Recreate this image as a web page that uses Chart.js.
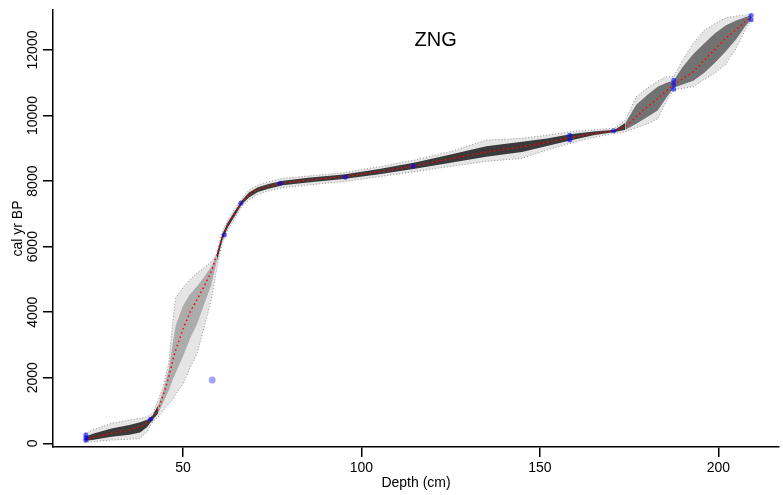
<!DOCTYPE html>
<html>
<head>
<meta charset="utf-8">
<script src="https://cdn.jsdelivr.net/npm/chart.js@4"></script>
<style>
  body { margin: 0; background: #fff; }
  #wrap { width: 783px; height: 495px; position: relative; }
</style>
</head>
<body>
<div id="wrap"><canvas id="c"></canvas></div>
<script>
// depths (cm) used for the age model band
const bandDepth = [22.5, 25, 30, 35, 38, 40, 41.5, 43, 44.5, 46, 47.2, 48, 50, 52, 54, 56, 58, 59.5, 61, 62.5, 64.5, 66.5, 68.5, 71, 74, 78, 85, 95, 105, 115, 125, 135, 145, 152, 158.5, 165, 171, 174, 177, 180, 183, 185.5, 187.5, 190, 193, 196, 199, 202, 205, 207.5, 209.2];
// mean age (red dotted)
const meanAge = [100, 183, 305, 406, 506, 620, 780, 1000, 1480, 2000, 2542, 2850, 3480, 4000, 4400, 4800, 5250, 5750, 6270, 6650, 7000, 7350, 7576, 7740, 7840, 7942, 8033, 8130, 8290, 8470, 8680, 8890, 9049, 9180, 9330, 9450, 9530, 9660, 9970, 10260, 10520, 10760, 10940, 11120, 11338, 11680, 12010, 12350, 12620, 12860, 13000];
// outer (95%) range
const outerMin = [40, 50, 100, 122, 152, 355, 650, 800, 1000, 1200, 1350, 1500, 1800, 2300, 2750, 3559, 4400, 5350, 6100, 6500, 6850, 7230, 7420, 7600, 7700, 7800, 7880, 7982, 8135, 8287, 8450, 8600, 8695, 8950, 9153, 9330, 9456, 9507, 9630, 9740, 9900, 10450, 10780, 10830, 10880, 11100, 11287, 11560, 12050, 12600, 12900];
const outerMax = [300, 420, 610, 711, 762, 812, 900, 1300, 1750, 2450, 3762, 4450, 4750, 5000, 5200, 5360, 5540, 5800, 6450, 6800, 7150, 7460, 7730, 7880, 7980, 8085, 8155, 8256, 8440, 8644, 8900, 9250, 9306, 9400, 9507, 9560, 9620, 9864, 10575, 10830, 11050, 11185, 11185, 11700, 12204, 12600, 12800, 12980, 13040, 13068, 13100];
// darker inner range
const innerMin = [70, 110, 200, 260, 330, 500, 720, 900, 1250, 1600, 1950, 2150, 2650, 3200, 3650, 4250, 4850, 5550, 6180, 6570, 6930, 7290, 7500, 7670, 7770, 7870, 7960, 8060, 8210, 8380, 8560, 8740, 8890, 9070, 9240, 9400, 9500, 9570, 9750, 9950, 10150, 10550, 10850, 10950, 11060, 11300, 11600, 11950, 12330, 12720, 12940];
const innerMax = [200, 300, 450, 560, 640, 720, 850, 1150, 1620, 2250, 3100, 3600, 4200, 4550, 4800, 5080, 5400, 5780, 6370, 6730, 7080, 7410, 7650, 7810, 7910, 8010, 8100, 8200, 8370, 8570, 8810, 9060, 9200, 9300, 9430, 9510, 9570, 9780, 10330, 10620, 10880, 11000, 11070, 11480, 11880, 12200, 12500, 12750, 12900, 13000, 13060];

// dated levels (blue)
const dateDepth = [22.8, 22.8, 22.8, 41, 61.6, 66.2, 77.3, 95.5, 114.5, 158.4, 158.4, 170.7, 187.5, 187.5, 187.5, 209.2, 209.2];
const dateAge = [90, 170, 250, 730, 6355, 7322, 7933, 8115, 8460, 9250, 9400, 9537, 10800, 10950, 11080, 12920, 13050];
const outlierDepth = [58.2];
const outlierAge = [1931];

const xTicks = [50, 100, 150, 200];
const yTicks = [0, 2000, 4000, 6000, 8000, 10000, 12000];

const pts = (xs, ys) => xs.map((x, i) => ({ x: x, y: ys[i] }));

const font14 = { family: 'Arial, "Liberation Sans", sans-serif', size: 14 };

// rotated y tick labels + core name
const labelsPlugin = {
  id: 'labels',
  afterDraw(chart) {
    const ctx = chart.ctx;
    const y = chart.scales.y, x = chart.scales.x;
    ctx.save();
    ctx.fillStyle = '#000';
    ctx.font = '14px Arial, "Liberation Sans", sans-serif';
    ctx.textAlign = 'center';
    ctx.textBaseline = 'middle';
    yTicks.forEach(v => {
      ctx.save();
      ctx.translate(33, y.getPixelForValue(v));
      ctx.rotate(-Math.PI / 2);
      ctx.fillText(String(v), 0, 0);
      ctx.restore();
    });
    ctx.font = '20px Arial, "Liberation Sans", sans-serif';
    ctx.fillText('ZNG', x.getPixelForValue(120.8), y.getPixelForValue(12300));
    ctx.restore();
  }
};

// shade of the inner band by section
function innerShade(c) {
  const d0 = c.p0.parsed.x, d1 = c.p1.parsed.x;
  if (d0 >= 43 && d1 <= 59.5) return 'rgba(0,0,0,0.25)';
  if (d0 >= 174) return 'rgba(0,0,0,0.5)';
  return 'rgba(0,0,0,0.75)';
}

new Chart(document.getElementById('c'), {
  type: 'line',
  data: {
    datasets: [
      { data: pts(bandDepth, outerMax), borderColor: 'rgba(0,0,0,0.4)', borderWidth: 1, borderDash: [1, 2],
        pointRadius: 0, fill: false, order: 4 },
      { data: pts(bandDepth, outerMin), borderColor: 'rgba(0,0,0,0.4)', borderWidth: 1, borderDash: [1, 2],
        pointRadius: 0, fill: '-1', backgroundColor: 'rgba(0,0,0,0.1)', order: 4 },
      { data: pts(bandDepth, innerMax), borderWidth: 0, borderColor: 'rgba(0,0,0,0)', pointRadius: 0, fill: false, order: 3 },
      { data: pts(bandDepth, innerMin), borderWidth: 0, borderColor: 'rgba(0,0,0,0)', pointRadius: 0, fill: '-1',
        backgroundColor: 'rgba(0,0,0,0.75)', segment: { backgroundColor: innerShade }, order: 3 },
      { data: pts(bandDepth, meanAge), borderColor: '#ff0000', borderWidth: 1.5, borderDash: [1.5, 3],
        pointRadius: 0, fill: false, order: 1 },
      { data: pts(dateDepth, dateAge), showLine: false, pointRadius: 2.5, pointBorderWidth: 0,
        pointBackgroundColor: 'rgba(0,0,255,0.6)', order: 0 },
      { data: pts(outlierDepth, outlierAge), showLine: false, pointRadius: 3.5, pointBorderWidth: 0,
        pointBackgroundColor: 'rgba(70,70,255,0.5)', order: 0 }
    ]
  },
  options: {
    responsive: true,
    maintainAspectRatio: false,
    animation: false,
    layout: { padding: { top: 10, right: 0, bottom: 0, left: 0 } },
    plugins: {
      legend: { display: false },
      tooltip: { enabled: false },
      title: { display: false }
    },
    scales: {
      x: {
        type: 'linear', min: 13.6, max: 217,
        border: { display: true, color: '#000', width: 1.5 },
        grid: { drawOnChartArea: false, drawTicks: true, tickLength: 10, color: '#000', lineWidth: 1.5 },
        ticks: { font: font14, color: '#000', padding: 3, maxRotation: 0 },
        afterBuildTicks: s => { s.ticks = xTicks.map(v => ({ value: v })); },
        afterFit: s => { s.height = 48; },
        title: { display: true, text: 'Depth (cm)', color: '#000', font: font14, padding: { top: 0, bottom: 3 } }
      },
      y: {
        type: 'linear', min: -113, max: 13220,
        border: { display: true, color: '#000', width: 1.5 },
        grid: { drawOnChartArea: false, drawTicks: true, tickLength: 10, color: '#000', lineWidth: 1.5 },
        ticks: { display: false },
        afterBuildTicks: s => { s.ticks = yTicks.map(v => ({ value: v })); },
        afterFit: s => { s.width = 53; },
        title: { display: true, text: 'cal yr BP', color: '#000', font: font14, padding: { top: 10, bottom: 0 } }
      }
    }
  },
  plugins: [labelsPlugin]
});
</script>
</body>
</html>
